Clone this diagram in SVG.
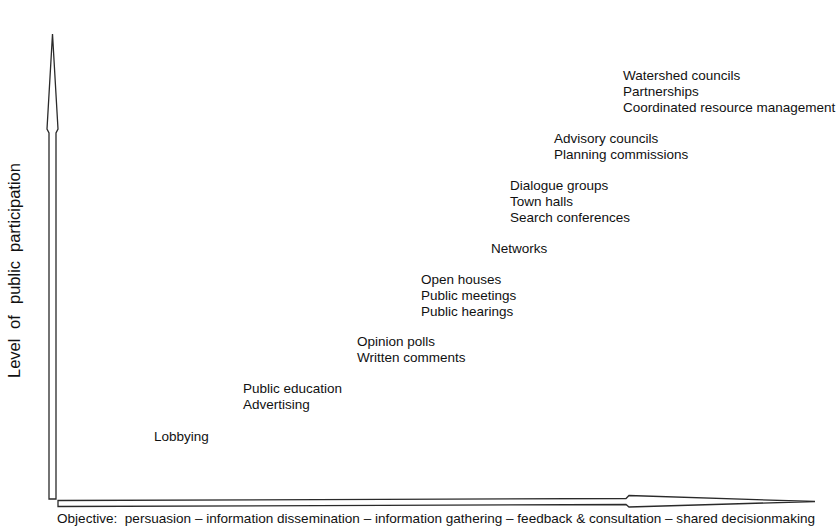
<svg xmlns="http://www.w3.org/2000/svg" width="836" height="529" viewBox="0 0 836 529">
<style>
text{font-family:"Liberation Sans",Arial,sans-serif;font-size:13.5px;fill:#111}
.yl{font-size:16.5px}
.ax{fill:#fff;stroke:#2a2a2a;stroke-width:1.3;stroke-linejoin:miter}
</style>
<rect width="836" height="529" fill="#fff"/>
<g id="axes">
<polygon class="ax" points="49,499 56,499 56,133 58,129 52.5,34 47,129 49,133"/>
<polygon class="ax" points="58,500.5 626,498.5 629,495.5 815,501.5 629,507 626,504.5 58,506.5"/>
</g>
<g id="y-label" transform="translate(20,0) rotate(-90)"><text class="yl" x="-378" y="0">Level</text><text class="yl" x="-329" y="0">of</text><text class="yl" x="-304" y="0">public</text><text class="yl" x="-252" y="0">participation</text></g>
<g id="x-label"><text x="57" y="523" textLength="758" lengthAdjust="spacingAndGlyphs" xml:space="preserve">Objective:  persuasion – information dissemination – information gathering – feedback &amp; consultation – shared decisionmaking</text></g>
<g id="n-lobbying"><text x="154" y="441">Lobbying</text></g>
<g id="n-education"><text x="243" y="393">Public education</text><text x="243" y="409">Advertising</text></g>
<g id="n-polls"><text x="357" y="346">Opinion polls</text><text x="357" y="362">Written comments</text></g>
<g id="n-houses"><text x="421" y="284">Open houses</text><text x="421" y="300">Public meetings</text><text x="421" y="316">Public hearings</text></g>
<g id="n-networks"><text x="491" y="253">Networks</text></g>
<g id="n-dialogue"><text x="510" y="190">Dialogue groups</text><text x="510" y="206">Town halls</text><text x="510" y="222">Search conferences</text></g>
<g id="n-advisory"><text x="554" y="143">Advisory councils</text><text x="554" y="159">Planning commissions</text></g>
<g id="n-watershed"><text x="623" y="80">Watershed councils</text><text x="623" y="96">Partnerships</text><text x="623" y="112">Coordinated resource management</text></g>
<g id="connectors"></g>
</svg>
